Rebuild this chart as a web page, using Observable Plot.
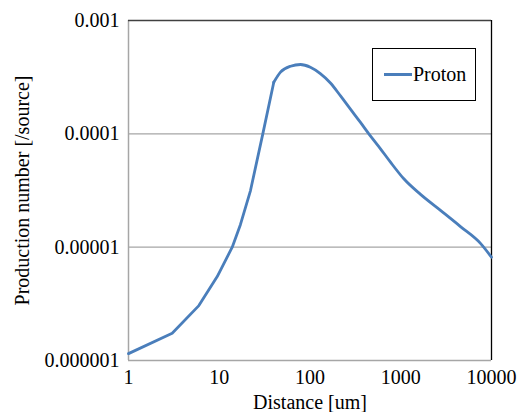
<!DOCTYPE html>
<html>
<head>
<meta charset="utf-8">
<script src="https://cdn.jsdelivr.net/npm/d3@7"></script>
<script src="https://cdn.jsdelivr.net/npm/@observablehq/plot@0.6"></script>
<style>
  html, body { margin: 0; padding: 0; background: white; }
  #wrap { position: relative; width: 524px; height: 412px; }
  #legend {
    position: absolute; left: 372px; top: 48px; width: 104px; height: 53px;
    border: 1.3px solid #000; background: white; box-sizing: border-box;
    font-family: "Liberation Serif", serif; font-size: 20px; color: #000;
    display: flex; align-items: center;
  }
  #legend .sw { width: 28px; height: 3px; margin-left: 11px; margin-right: 1px; }
</style>
</head>
<body>
<div id="wrap"></div>
<script>
const distance = [1, 3.03, 5.96, 9.5, 13.9, 17.1, 22.1, 30.2, 39.9, 47.3, 61, 78.6, 101, 130, 168, 217, 279, 360, 445, 598, 771, 1081, 1652, 2742, 4550, 7560, 10000];
const production = [1.15e-6, 1.74e-6, 3.05e-6, 5.5e-6, 1.0e-5, 1.58e-5, 3.16e-5, 1.0e-4, 2.85e-4, 3.5e-4, 3.95e-4, 4.09e-4, 3.87e-4, 3.4e-4, 2.81e-4, 2.16e-4, 1.65e-4, 1.26e-4, 1.0e-4, 7.38e-5, 5.62e-5, 4.01e-5, 2.92e-5, 2.11e-5, 1.52e-5, 1.08e-5, 8.15e-6];
const seriesName = "Proton";
const xTicks = [1, 10, 100, 1000, 10000];
const xTickLabels = ["1", "10", "100", "1000", "10000"];
const yTicks = [1e-6, 1e-5, 1e-4, 1e-3];
const yTickLabels = ["0.000001", "0.00001", "0.0001", "0.001"];
const gridY = [1e-5, 1e-4];
const xTitle = "Distance [um]";
const yTitle = "Production number [/source]";
const lineColor = "#4a7ebb";
const peakStart = 39.9;

const data = distance.map((d, i) => ({distance: d, value: production[i]}));
const rising = data.filter(d => d.distance <= peakStart);
const falling = data.filter(d => d.distance >= peakStart);

const chart = Plot.plot({
  width: 524,
  height: 412,
  marginLeft: 128,
  marginRight: 33,
  marginTop: 20,
  marginBottom: 52,
  style: {fontFamily: "'Liberation Serif', serif", fontSize: "20px", background: "white", color: "black", overflow: "visible"},
  x: {type: "log", domain: [1, 10000]},
  y: {type: "log", domain: [1e-6, 1e-3]},
  marks: [
    Plot.ruleY(gridY, {stroke: "#a6a6a6", strokeWidth: 1.3}),
    Plot.ruleY([yTicks[0]], {stroke: "#a6a6a6", strokeWidth: 1.5}),
    Plot.ruleX([xTicks[0]], {stroke: "#a6a6a6", strokeWidth: 1.5}),
    Plot.ruleY([yTicks[yTicks.length - 1]], {stroke: "#404040", strokeWidth: 1.3}),
    Plot.ruleX([xTicks[xTicks.length - 1]], {stroke: "#000", strokeWidth: 1.3}),
    Plot.line(rising, {x: "distance", y: "value", stroke: lineColor, strokeWidth: 2.8}),
    Plot.line(falling, {x: "distance", y: "value", stroke: lineColor, strokeWidth: 2.8, curve: "monotone-x"}),
    Plot.axisX(xTicks, {tickSize: 0, tickPadding: 9, tickFormat: d => xTickLabels[xTicks.indexOf(d)], label: null}),
    Plot.axisY(yTicks, {tickSize: 0, tickPadding: 9, tickFormat: d => yTickLabels[yTicks.indexOf(d)], label: null}),
    Plot.text([xTitle], {text: d => d, frameAnchor: "bottom", dy: 42, lineAnchor: "middle", textAnchor: "middle", fill: "black"}),
    Plot.text([yTitle], {text: d => d, frameAnchor: "left", dx: -106, rotate: -90, lineAnchor: "middle", textAnchor: "middle", fill: "black"})
  ]
});

const wrap = document.getElementById("wrap");
wrap.appendChild(chart);
const legend = document.createElement("div");
legend.id = "legend";
const sw = document.createElement("span");
sw.className = "sw";
sw.style.background = lineColor;
const lab = document.createElement("span");
lab.textContent = seriesName;
legend.appendChild(sw);
legend.appendChild(lab);
wrap.appendChild(legend);
</script>
</body>
</html>
